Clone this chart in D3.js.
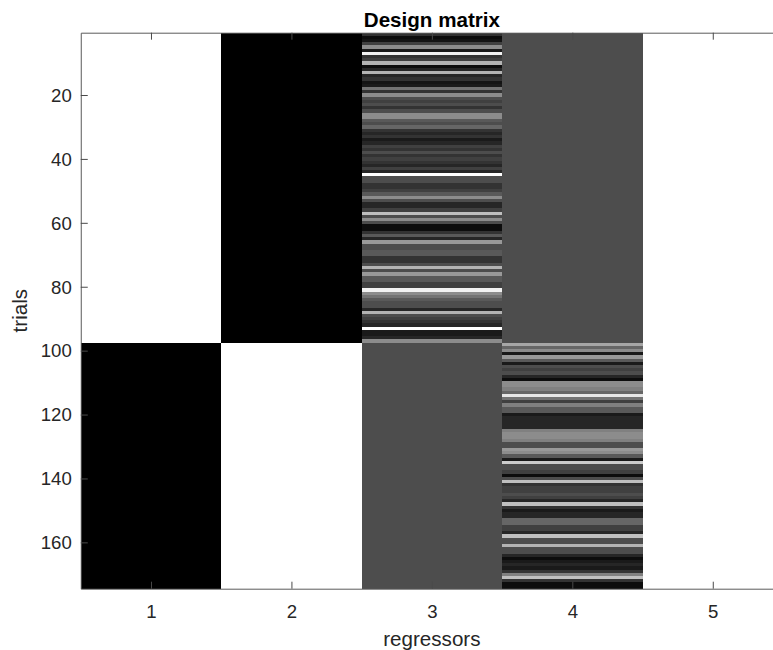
<!DOCTYPE html>
<html>
<head>
<meta charset="utf-8">
<script src="https://cdn.jsdelivr.net/npm/d3@7"></script>
<style>
  html, body { margin: 0; padding: 0; background: #fff; }
  svg { display: block; }
  text { font-family: "Liberation Sans", Arial, Helvetica, sans-serif; fill: #262626; }
</style>
</head>
<body>
<svg id="chart" width="773" height="650"></svg>
<script>
// Regressor columns of the design matrix
const regressors = [1, 2, 3, 4, 5];
// Number of trials in each of the two conditions (stacked top to bottom)
const trialsPerCondition = [97, 77];
// Tick labels
const trialTicks = [20, 40, 60, 80, 100, 120, 140, 160];

// Parametric modulator of condition 1 (regressor 3), gray level per trial
const modulatorA = [
  0.20, 0.05, 0.08, 0.25, 0.55, 0.10, 0.95, 0.20, 0.25, 0.70,
  0.05, 0.15, 0.70, 0.15, 0.20, 0.08, 0.10, 0.45, 0.20, 0.55,
  0.30, 0.25, 0.30, 0.20, 0.30, 0.55, 0.55, 0.35, 0.30, 0.40,
  0.20, 0.15, 0.20, 0.10, 0.15, 0.25, 0.20, 0.30, 0.20, 0.25,
  0.20, 0.15, 0.25, 0.15, 1.00, 0.30, 0.30, 0.20, 0.20, 0.25,
  0.35, 0.55, 0.30, 0.15, 0.15, 0.25, 0.75, 0.30, 0.55, 0.30,
  0.05, 0.05, 0.20, 0.35, 0.15, 0.60, 0.30, 0.30, 0.35, 0.35,
  0.20, 0.20, 0.30, 0.70, 0.30, 0.60, 0.35, 0.35, 0.25, 0.25,
  0.95, 0.55, 0.45, 0.35, 0.30, 0.30, 0.15, 0.70, 0.30, 0.25,
  0.20, 0.15, 1.00, 0.10, 0.10, 0.15, 0.55
];
// Parametric modulator of condition 2 (regressor 4), gray level per trial
const modulatorB = [
  0.65, 0.40, 0.55, 0.10, 0.60, 0.35, 0.10, 0.30, 0.25, 0.30,
  0.15, 0.05, 0.55, 0.55, 0.50, 0.40, 0.90, 0.45, 0.25, 0.50,
  0.35, 0.35, 0.10, 0.15, 0.15, 0.15, 0.15, 0.50, 0.55, 0.55,
  0.50, 0.30, 0.30, 0.60, 0.55, 0.35, 0.10, 0.80, 0.30, 0.30,
  0.25, 0.05, 0.30, 0.75, 0.20, 0.25, 0.25, 0.30, 0.25, 0.15,
  0.75, 0.20, 0.10, 0.15, 0.15, 0.40, 0.40, 0.25, 0.25, 0.15,
  0.75, 0.30, 0.30, 0.70, 0.30, 0.30, 0.15, 0.05, 0.10, 0.15,
  0.10, 0.20, 0.50, 0.75, 0.20, 0.05, 0.05
];
// Gray level of a modulator column outside its own condition
const modulatorOff = 0.30;

// Build the trial x regressor matrix
const nA = trialsPerCondition[0];
const nTrials = trialsPerCondition[0] + trialsPerCondition[1];
const cells = [];
for (let t = 1; t <= nTrials; t++) {
  const inA = t <= nA;
  const row = [
    inA ? 1 : 0,
    inA ? 0 : 1,
    inA ? modulatorA[t - 1] : modulatorOff,
    inA ? modulatorOff : modulatorB[t - 1 - nA],
    1
  ];
  row.forEach((v, j) => cells.push({ trial: t, reg: regressors[j], v }));
}

const svg = d3.select("#chart");
const plotLeft = 80.75, plotRight = 783, plotTop = 32.7, plotBottom = 588.7;

const x = d3.scaleLinear().domain([0.5, regressors.length + 0.5]).range([plotLeft, plotRight]);
const y = d3.scaleLinear().domain([0.5, nTrials + 0.5]).range([plotTop, plotBottom]);
const gray = d3.scaleLinear().domain([0, 1]).range(["#000000", "#ffffff"]).clamp(true);

// Image cells
svg.append("g")
  .attr("shape-rendering", "crispEdges")
  .selectAll("rect")
  .data(cells)
  .join("rect")
  .attr("x", d => x(d.reg - 0.5))
  .attr("y", d => y(d.trial - 0.5))
  .attr("width", d => x(d.reg + 0.5) - x(d.reg - 0.5) + 0.5)
  .attr("height", d => y(d.trial + 0.5) - y(d.trial - 0.5) + 0.5)
  .attr("fill", d => gray(d.v));

const axisColor = "#262626";
function styleAxis(g) {
  g.select(".domain").attr("stroke", "#5a5a5a").attr("stroke-width", 1);
  g.selectAll(".tick line").attr("stroke", "#4a4a4a").attr("stroke-width", 1);
  g.selectAll(".tick text").attr("fill", axisColor)
    .style("font-size", "18.6px")
    .style("font-family", "'Liberation Sans', Arial, sans-serif");
}

// Left axis (ticks point inward)
svg.append("g")
  .attr("transform", `translate(${plotLeft},0)`)
  .call(d3.axisLeft(y).tickValues(trialTicks).tickSizeInner(-7).tickSizeOuter(0).tickPadding(9))
  .call(styleAxis)
  .call(g => g.selectAll(".tick text").attr("dy", "0.34em"));

// Bottom axis
svg.append("g")
  .attr("transform", `translate(0,${plotBottom})`)
  .call(d3.axisBottom(x).tickValues(regressors).tickFormat(d3.format("d")).tickSizeInner(-7).tickSizeOuter(0).tickPadding(16))
  .call(styleAxis);

// Top axis (box), ticks only
svg.append("g")
  .attr("transform", `translate(0,${plotTop})`)
  .call(d3.axisTop(x).tickValues(regressors).tickFormat("").tickSizeInner(-7).tickSizeOuter(0))
  .call(styleAxis);

// Title and axis labels
svg.append("text")
  .attr("x", (plotLeft + plotRight) / 2).attr("y", 26.5)
  .attr("text-anchor", "middle")
  .style("font-size", "20.6px").style("font-weight", "bold")
  .style("fill", "#000")
  .text("Design matrix");

svg.append("text")
  .attr("x", (plotLeft + plotRight) / 2).attr("y", 645.5)
  .attr("text-anchor", "middle")
  .style("font-size", "20.6px")
  .text("regressors");

svg.append("text")
  .attr("transform", `translate(27,${(plotTop + plotBottom) / 2}) rotate(-90)`)
  .attr("text-anchor", "middle")
  .style("font-size", "20.6px")
  .text("trials");
</script>
</body>
</html>
